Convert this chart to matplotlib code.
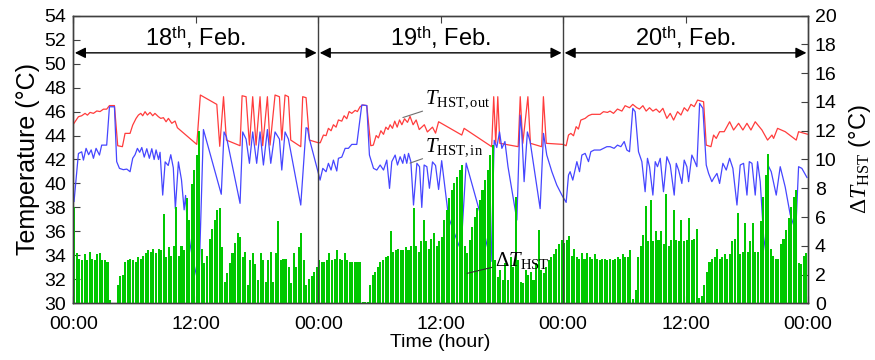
import numpy as np
import matplotlib
matplotlib.use("Agg")
import matplotlib.pyplot as plt

plt.rcParams['font.family'] = ['Liberation Sans', 'DejaVu Sans']
plt.rcParams['mathtext.fontset'] = 'custom'
plt.rcParams['mathtext.rm'] = 'Liberation Serif'
plt.rcParams['mathtext.it'] = 'Liberation Serif:italic'
plt.rcParams['mathtext.bf'] = 'Liberation Serif:bold'
plt.rcParams['mathtext.sf'] = 'Liberation Sans'

# ---------------- data ----------------
day_labels = ["18$^{\\mathsf{th}}$, Feb.", "19$^{\\mathsf{th}}$, Feb.", "20$^{\\mathsf{th}}$, Feb."]
xtick_hours = [0, 12, 24, 36, 48, 60, 72]
xtick_labels = ["00:00", "12:00", "00:00", "12:00", "00:00", "12:00", "00:00"]

# T_HST,out (red) : time [h], temperature [°C]
red_t1 = [0.05, 0.5, 0.82, 1.15, 1.38, 1.64, 1.97, 2.3, 2.62, 2.95, 3.27, 3.54, 4.03, 4.35, 4.81, 5.07, 5.56,
          5.82, 6.15, 6.38, 6.61, 6.8, 7.03, 7.26, 7.52, 7.78, 8.0, 8.34, 8.57, 8.83, 9.09, 9.32, 9.65, 9.97,
          10.2, 12.1, 12.45, 14.06, 14.35, 14.72, 15.0, 16.34, 16.54, 16.93, 17.26, 17.58, 17.91, 18.3, 18.56,
          19.02, 19.28, 19.77, 20.2, 20.43, 20.75, 21.08, 21.31, 22.29, 22.48, 22.81, 23.14, 24.0]
red_v1 = [45.0, 45.57, 45.65, 45.85, 45.7, 45.93, 45.85, 46.05, 46.0, 46.2, 46.2, 46.5, 46.5, 43.15, 43.07, 44.18,
          44.18, 44.87, 45.43, 45.71, 45.85, 45.65, 45.99, 45.71, 45.93, 45.65, 45.85, 45.57, 45.43, 45.49, 45.15,
          45.43, 45.02, 45.21, 44.65, 43.26, 47.38, 46.6, 43.1, 47.24, 43.62, 43.15, 47.32, 47.24, 43.2, 47.24,
          43.2, 47.24, 43.15, 47.24, 43.2, 47.38, 47.24, 43.62, 47.38, 47.24, 43.62, 43.07, 47.24, 47.16, 43.62,
          43.4]
red_t2 = [24.2, 24.51, 24.77, 25.0, 25.26, 25.49, 25.75, 25.98, 26.31, 26.54, 26.8, 27.03, 27.29, 27.62, 27.84,
          28.1, 28.37, 28.76, 29.15, 29.4, 29.68, 29.9, 30.14, 30.4, 30.63, 30.85, 31.05, 31.28, 31.5, 31.74,
          31.97, 32.2, 32.46, 32.75, 33.0, 33.3, 33.6, 33.9, 34.4, 34.7, 35.2, 35.5, 35.8, 38.07, 38.3, 41.0,
          41.2, 41.4, 41.6, 41.8, 43.6, 43.8, 44.05, 44.55, 44.8, 45.9, 46.07, 46.35, 48.0]
red_v2 = [43.4, 44.04, 43.99, 44.6, 44.4, 44.9, 44.7, 45.3, 45.2, 45.65, 45.4, 46.0, 45.85, 46.1, 46.0, 46.4,
          46.55, 46.5, 43.15, 43.2, 44.0, 43.8, 44.4, 44.1, 44.7, 44.5, 44.9, 44.6, 45.2, 44.7, 45.3, 44.9, 45.4,
          45.1, 45.6, 44.9, 45.3, 44.5, 44.9, 44.3, 44.7, 44.2, 45.15, 44.04, 44.6, 43.07, 47.24, 43.35, 47.24,
          43.35, 43.07, 47.24, 43.35, 47.24, 43.35, 43.07, 47.24, 43.35, 43.26]
red_t3 = [48.3, 48.53, 48.76, 49.02, 49.28, 49.5, 49.74, 50.16, 50.49, 50.82, 51.63, 51.96, 52.35, 52.6, 52.94,
          53.33, 53.76, 54.08, 54.51, 54.83, 55.23, 55.49, 55.82, 56.14, 56.47, 56.8, 57.12, 57.45, 57.78, 58.17,
          58.5, 58.83, 59.22, 59.55, 59.87, 60.2, 60.53, 60.85, 61.18, 61.77, 62.03, 62.49, 62.75, 63.01, 63.34,
          63.79, 64.32, 64.71, 65.2, 65.62, 66.02, 66.41, 66.83, 67.49, 68.04, 68.47, 68.63, 69.02, 69.77, 70.85,
          71.08, 72.0]
red_v3 = [43.15, 44.04, 44.18, 43.98, 44.74, 44.54, 45.29, 45.43, 45.66, 45.77, 45.77, 45.99, 45.93, 46.04,
          45.85, 46.21, 46.04, 46.49, 46.32, 46.6, 46.32, 46.21, 46.49, 46.04, 46.32, 46.04, 46.21, 45.93, 46.27,
          45.43, 45.85, 45.29, 45.99, 45.71, 46.32, 46.04, 46.6, 46.41, 46.96, 46.82, 43.2, 43.07, 44.04, 43.76,
          44.32, 44.32, 45.15, 44.46, 45.02, 44.46, 45.02, 44.46, 45.15, 44.46, 43.62, 44.04, 43.76, 44.6, 44.32,
          43.62, 44.32, 44.1]

# T_HST,in (blue)
blue_t1 = [0.07, 0.5, 0.82, 0.99, 1.25, 1.5, 1.75, 1.97, 2.23, 2.56, 2.78, 3.27, 3.54, 4.03, 4.25, 4.52, 4.9,
           5.24, 5.56, 5.82, 6.05, 6.28, 6.5, 6.71, 6.95, 7.2, 7.45, 7.69, 7.92, 8.11, 8.35, 8.5, 8.76, 9.0,
           9.3, 9.55, 9.8, 10.0, 10.3, 10.6, 10.86, 11.0, 11.15, 11.45, 11.7, 12.3, 12.75, 14.5, 14.77, 15.0,
           16.34, 16.6, 16.93, 17.26, 17.58, 17.97, 18.3, 18.63, 19.02, 19.35, 19.77, 20.2, 20.43, 20.75, 21.08,
           22.29, 22.81, 22.95, 23.14, 24.02]
blue_v1 = [38.5, 42.5, 42.64, 41.95, 42.93, 42.4, 42.8, 42.1, 42.93, 42.37, 43.2, 43.2, 46.4, 46.4, 41.82,
           41.26, 41.15, 41.2, 40.98, 42.1, 42.4, 42.93, 42.6, 43.0, 42.2, 42.9, 42.1, 42.9, 42.0, 42.8, 42.0,
           42.6, 39.03, 41.8, 41.5, 42.4, 41.3, 37.9, 41.8, 40.3, 37.8, 39.0, 36.9, 34.9, 33.7, 31.5, 44.5, 39.1,
           44.3, 43.9, 38.34, 44.3, 43.7, 41.68, 44.3, 41.68, 44.3, 41.54, 44.5, 41.68, 44.3, 43.7, 41.12, 44.3,
           43.7, 38.2, 44.65, 44.6, 43.7, 40.84]
blue_t2 = [24.18, 24.45, 24.77, 25.0, 25.26, 25.49, 25.82, 25.98, 26.31, 26.64, 26.96, 27.29, 27.78, 28.27,
           28.76, 29.02, 29.42, 29.74, 30.07, 30.4, 30.72, 30.99, 31.21, 31.54, 31.77, 32.03, 32.29, 32.46, 32.68,
           32.85, 33.08, 33.34, 33.67, 33.93, 34.15, 34.38, 34.65, 34.9, 35.2, 35.5, 35.8, 36.1, 36.77, 37.8,
           38.0, 38.5, 39.87, 40.5, 40.95, 41.25, 41.5, 41.77, 42.0, 42.3, 42.6, 43.47, 43.79, 43.95, 44.18,
           44.5, 44.77, 45.75, 46.08, 46.4, 46.9, 47.38, 47.88, 48.3]
blue_v2 = [40.28, 41.26, 40.98, 41.68, 41.12, 41.95, 41.04, 42.1, 42.2, 42.93, 42.93, 43.26, 43.26, 46.55, 46.5,
           42.37, 41.26, 41.12, 41.54, 41.12, 41.95, 39.59, 41.82, 42.37, 41.54, 42.23, 41.68, 42.43, 41.68,
           42.51, 41.82, 38.2, 41.68, 41.4, 38.0, 41.54, 41.4, 39.6, 41.8, 41.5, 39.5, 41.9, 37.2, 34.8, 34.5,
           41.7, 37.5, 35.0, 33.5, 43.6, 43.0, 44.3, 42.93, 43.5, 41.4, 36.95, 45.7, 44.3, 40.15, 44.3, 43.5,
           37.9, 44.18, 42.37, 40.98, 39.87, 39.03, 38.42]
blue_t3 = [48.53, 48.69, 48.95, 49.35, 49.61, 49.84, 50.16, 50.49, 50.72, 51.05, 51.63, 51.96, 52.29, 52.61,
           53.0, 53.33, 53.66, 53.99, 54.25, 54.51, 54.83, 55.06, 55.39, 55.72, 56.04, 56.27, 56.47, 56.8, 57.03,
           57.25, 57.52, 57.84, 58.17, 58.5, 58.89, 59.09, 59.32, 59.64, 59.87, 60.13, 60.3, 60.62, 60.85, 61.11,
           61.38, 61.7, 62.03, 62.26, 62.58, 62.75, 63.08, 63.34, 63.66, 63.99, 64.32, 64.64, 65.04, 65.36, 65.69,
           66.02, 66.25, 66.51, 66.83, 67.06, 67.32, 67.65, 67.95, 68.1, 68.4, 68.89, 69.28, 69.77, 70.26, 70.8,
           71.08, 71.4, 71.9]
blue_v3 = [40.7, 40.98, 40.28, 41.82, 40.98, 42.37, 42.51, 41.82, 42.65, 42.79, 42.79, 42.93, 43.07, 43.07, 42.93,
           43.2, 43.07, 43.5, 42.79, 42.65, 46.27, 45.99, 42.65, 41.82, 39.31, 42.1, 41.4, 39.03, 41.82, 41.4,
           42.1, 39.31, 42.23, 41.54, 39.03, 41.68, 41.12, 40.0, 41.95, 41.4, 40.15, 42.37, 41.95, 41.4, 46.68,
           46.27, 41.54, 40.84, 40.15, 40.42, 40.84, 40.0, 41.68, 41.12, 42.1, 41.26, 38.2, 41.54, 41.68, 39.03,
           41.82, 41.68, 39.03, 41.82, 40.15, 35.56, 33.8, 41.5, 40.98, 39.03, 41.4, 39.7, 37.4, 36.0, 41.4, 41.26,
           40.5]

# Delta T_HST (green bars), 15-min samples
dT_day1 = [6.7, 3.5, 3.1, 3.0, 3.4, 3.0, 3.6, 3.1, 3.0, 3.4, 3.5, 3.0, 3.0, 2.9, 0.2, 0.0,
           0.0, 1.3, 1.9, 2.0, 2.9, 3.0, 3.1, 3.0, 2.9, 3.25, 3.1, 3.3, 3.5, 3.7, 3.6, 3.8,
           3.5, 3.8, 3.7, 6.2, 3.2, 3.9, 3.3, 4.0, 6.7, 3.3, 4.0, 3.7, 7.3, 5.8, 8.3, 9.3,
           10.3, 12.0, 3.8, 2.8, 3.3, 4.5, 5.2, 5.8, 6.5, 6.6, 3.9, 1.5, 2.1, 2.8, 3.5, 4.2,
           4.9, 4.6, 3.2, 3.6, 1.3, 3.0, 3.5, 2.7, 1.6, 3.5, 3.0, 1.5, 3.0, 3.6, 1.5, 3.5,
           5.7, 3.0, 3.1, 3.1, 2.5, 1.4, 3.5, 2.5, 3.9, 4.9, 3.0, 1.3, 1.7, 1.9, 2.2, 2.5]
dT_day2 = [3.0, 2.9, 2.9, 3.0, 3.5, 3.0, 3.1, 3.7, 3.1, 3.0, 3.5, 3.0, 2.9, 2.9, 2.9, 2.9,
           2.9, 0.1, 0.1, 0.1, 1.3, 2.0, 2.2, 2.5, 2.9, 3.0, 3.2, 3.3, 5.0, 3.6, 3.7, 3.8,
           3.7, 3.7, 3.9, 3.7, 4.0, 6.6, 4.0, 3.6, 4.3, 5.8, 4.3, 3.8, 4.5, 4.9, 4.0, 4.3,
           4.6, 5.8, 6.5, 7.3, 7.9, 8.4, 8.8, 9.3, 9.6, 4.0, 3.5, 4.4, 5.3, 6.0, 6.6, 7.2,
           7.9, 8.6, 9.3, 10.3, 11.0, 3.0, 1.8, 2.3, 1.6, 2.8, 1.6, 3.2, 2.5, 7.4, 3.0, 1.5,
           1.4, 2.3, 2.0, 2.2, 1.6, 2.8, 5.1, 2.3, 2.1, 2.5, 3.0, 3.2, 3.4, 3.8, 4.1, 4.4]
dT_day3 = [4.2, 4.4, 4.7, 3.3, 3.8, 3.2, 3.1, 3.5, 3.1, 3.5, 3.2, 3.1, 3.4, 3.1, 3.0, 3.1,
           3.1, 3.0, 3.1, 3.0, 3.1, 3.2, 3.1, 3.4, 3.2, 3.2, 3.7, 0.3, 0.9, 3.2, 4.0, 4.75,
           6.8, 4.3, 7.2, 4.3, 5.0, 4.4, 5.0, 4.1, 7.6, 4.0, 4.4, 6.5, 4.4, 4.3, 5.8, 4.3,
           4.4, 5.9, 4.4, 4.5, 5.2, 0.4, 0.5, 1.3, 2.2, 2.9, 3.1, 3.2, 3.8, 3.1, 3.2, 3.4,
           3.1, 3.4, 4.3, 4.5, 6.3, 3.4, 3.6, 5.6, 3.6, 4.3, 5.6, 3.6, 3.6, 5.7, 7.4, 8.9,
           10.4, 3.8, 3.3, 3.1, 3.1, 4.1, 4.5, 5.1, 5.9, 6.7, 7.4, 7.9, 2.8, 2.7, 3.3, 3.5]
bar_time = np.arange(0.0, 72.0, 0.25)   # 15-min sampling, hours from 18 Feb 00:00

# ---------------- figure ----------------
fig = plt.figure(figsize=(8.75, 3.6), dpi=100)
ax = fig.add_axes([0.0838, 0.1575, 0.8396, 0.7989])
ax2 = ax.twinx()

red_t = red_t1 + red_t2 + red_t3
red_v = red_v1 + red_v2 + red_v3
blue_t = blue_t1 + blue_t2 + blue_t3
blue_v = blue_v1 + blue_v2 + blue_v3
dT = dT_day1 + dT_day2 + dT_day3

ax.plot(red_t, red_v, color='#FF3C3C', lw=0.9, zorder=3)
ax.plot(blue_t, blue_v, color='#4646FF', lw=0.9, zorder=3)
ax2.bar(bar_time, dT, width=0.2, align='edge', color='#00C800', linewidth=0, zorder=2)

ax.set_xlim(0, 72)
ax.set_ylim(30, 54)
ax2.set_ylim(0, 20)
ax.set_yticks(np.arange(30, 55, 2))
ax2.set_yticks(np.arange(0, 21, 2))
ax.set_xticks(xtick_hours)
ax.set_xticklabels(xtick_labels)

for d in (24, 48):
    ax2.axvline(d, color='#404040', lw=1.0, zorder=4)

for a in (ax, ax2):
    for s in a.spines.values():
        s.set_color('#404040')
        s.set_linewidth(1.0)
ax.tick_params(axis='both', direction='in', length=5, width=0.8, color='#404040', labelsize=14, top=True)
ax.tick_params(axis='x', pad=9)
ax.tick_params(axis='y', right=False, pad=5)
ax2.tick_params(axis='y', direction='in', length=5, width=0.8, color='#404040', labelsize=14, pad=5)

ax.set_ylabel('Temperature (°C)', fontsize=18, labelpad=3)
ax.set_xlabel('Time (hour)', fontsize=14, labelpad=1)
ax2.set_ylabel('$\\Delta T_{\\mathrm{HST}}$ (°C)', fontsize=17, labelpad=7)

tr = ax.transData
# day arrows and labels
for i, lab in enumerate(day_labels):
    x0 = 24 * i
    ax2.annotate('', xy=(x0 + 0.15, 50.9), xytext=(x0 + 23.85, 50.9), xycoords=tr, textcoords=tr,
                 arrowprops=dict(arrowstyle='<|-|>', color='black', lw=1.0, mutation_scale=16,
                                 shrinkA=0, shrinkB=0), zorder=6)
    ax2.text(x0 + 12, 52.2, lab, transform=tr, ha='center', va='center', fontsize=17, zorder=6)

# curve annotations
ax2.annotate('$T_{\\mathrm{HST,out}}$', xy=(32.3, 45.5), xytext=(34.5, 47.0), xycoords=tr, textcoords=tr,
             fontsize=15, ha='left', va='center', zorder=7,
             arrowprops=dict(arrowstyle='-', color='#707070', lw=0.8, shrinkA=0, shrinkB=0))
ax2.annotate('$T_{\\mathrm{HST,in}}$', xy=(33.0, 41.7), xytext=(34.5, 43.0), xycoords=tr, textcoords=tr,
             fontsize=15, ha='left', va='center', zorder=7,
             arrowprops=dict(arrowstyle='-', color='#707070', lw=0.8, shrinkA=0, shrinkB=0))
ax2.annotate('$\\Delta T_{\\mathrm{HST}}$', xy=(38.6, 32.5), xytext=(41.3, 33.6), xycoords=tr, textcoords=tr,
             fontsize=15, ha='left', va='center', zorder=7,
             arrowprops=dict(arrowstyle='-', color='#303030', lw=0.8, shrinkA=0, shrinkB=0))

fig.savefig('out.png', dpi=100)
